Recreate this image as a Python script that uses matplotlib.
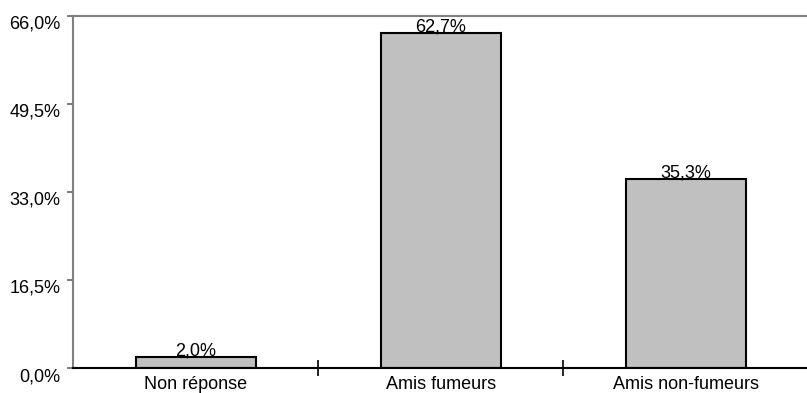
import matplotlib
matplotlib.use("Agg")
import matplotlib.pyplot as plt
from matplotlib.ticker import FixedLocator, FuncFormatter

categories = ["Non réponse", "Amis fumeurs", "Amis non-fumeurs"]
values = [2.0, 62.7, 35.3]
yticks = [0.0, 16.5, 33.0, 49.5, 66.0]

plt.rcParams['font.family'] = ['Liberation Sans', 'DejaVu Sans']
FS = 13

fig = plt.figure(figsize=(8.07, 3.93), dpi=100)
ax = fig.add_axes([73/807, (393-368)/393, (807-73)/807 + 0.002, (368-15.5)/393])

x = list(range(len(categories)))
bars = ax.bar(x, values, width=0.49, color="#c0c0c0", edgecolor="black", linewidth=1.5, zorder=2)
for xi, v in zip(x, values):
    ax.annotate(f"{v:.1f}%".replace(".", ","), (xi, v), xytext=(0, -1.5), textcoords="offset points",
                ha="center", va="bottom", fontsize=FS, zorder=3)

ax.set_xlim(-0.5, len(categories) - 0.5)
ax.set_ylim(0, 66)
ax.set_yticks(yticks)
ax.yaxis.set_major_formatter(FuncFormatter(lambda v, p: f"{v:.1f}%".replace(".", ",")))
ax.tick_params(axis="y", direction="out", length=4, width=1.5, color="#808080", labelsize=FS, pad=5)
for lab in ax.get_yticklabels():
    lab.set_verticalalignment("top")

ax.set_xticks(x)
ax.set_xticklabels(categories, fontsize=FS)
ax.tick_params(axis="x", which="major", length=0, pad=6)
ax.xaxis.set_minor_locator(FixedLocator([0.5, 1.5]))
ax.tick_params(axis="x", which="minor", direction="inout", length=12, width=1.2, color="black")

ax.spines["right"].set_visible(False)
ax.spines["left"].set_color("#808080")
ax.spines["left"].set_linewidth(1.5)
ax.spines["top"].set_color("#808080")
ax.spines["top"].set_linewidth(1.5)
ax.spines["bottom"].set_color("black")
ax.spines["bottom"].set_linewidth(1.5)

fig.savefig("out.png", dpi=100)
